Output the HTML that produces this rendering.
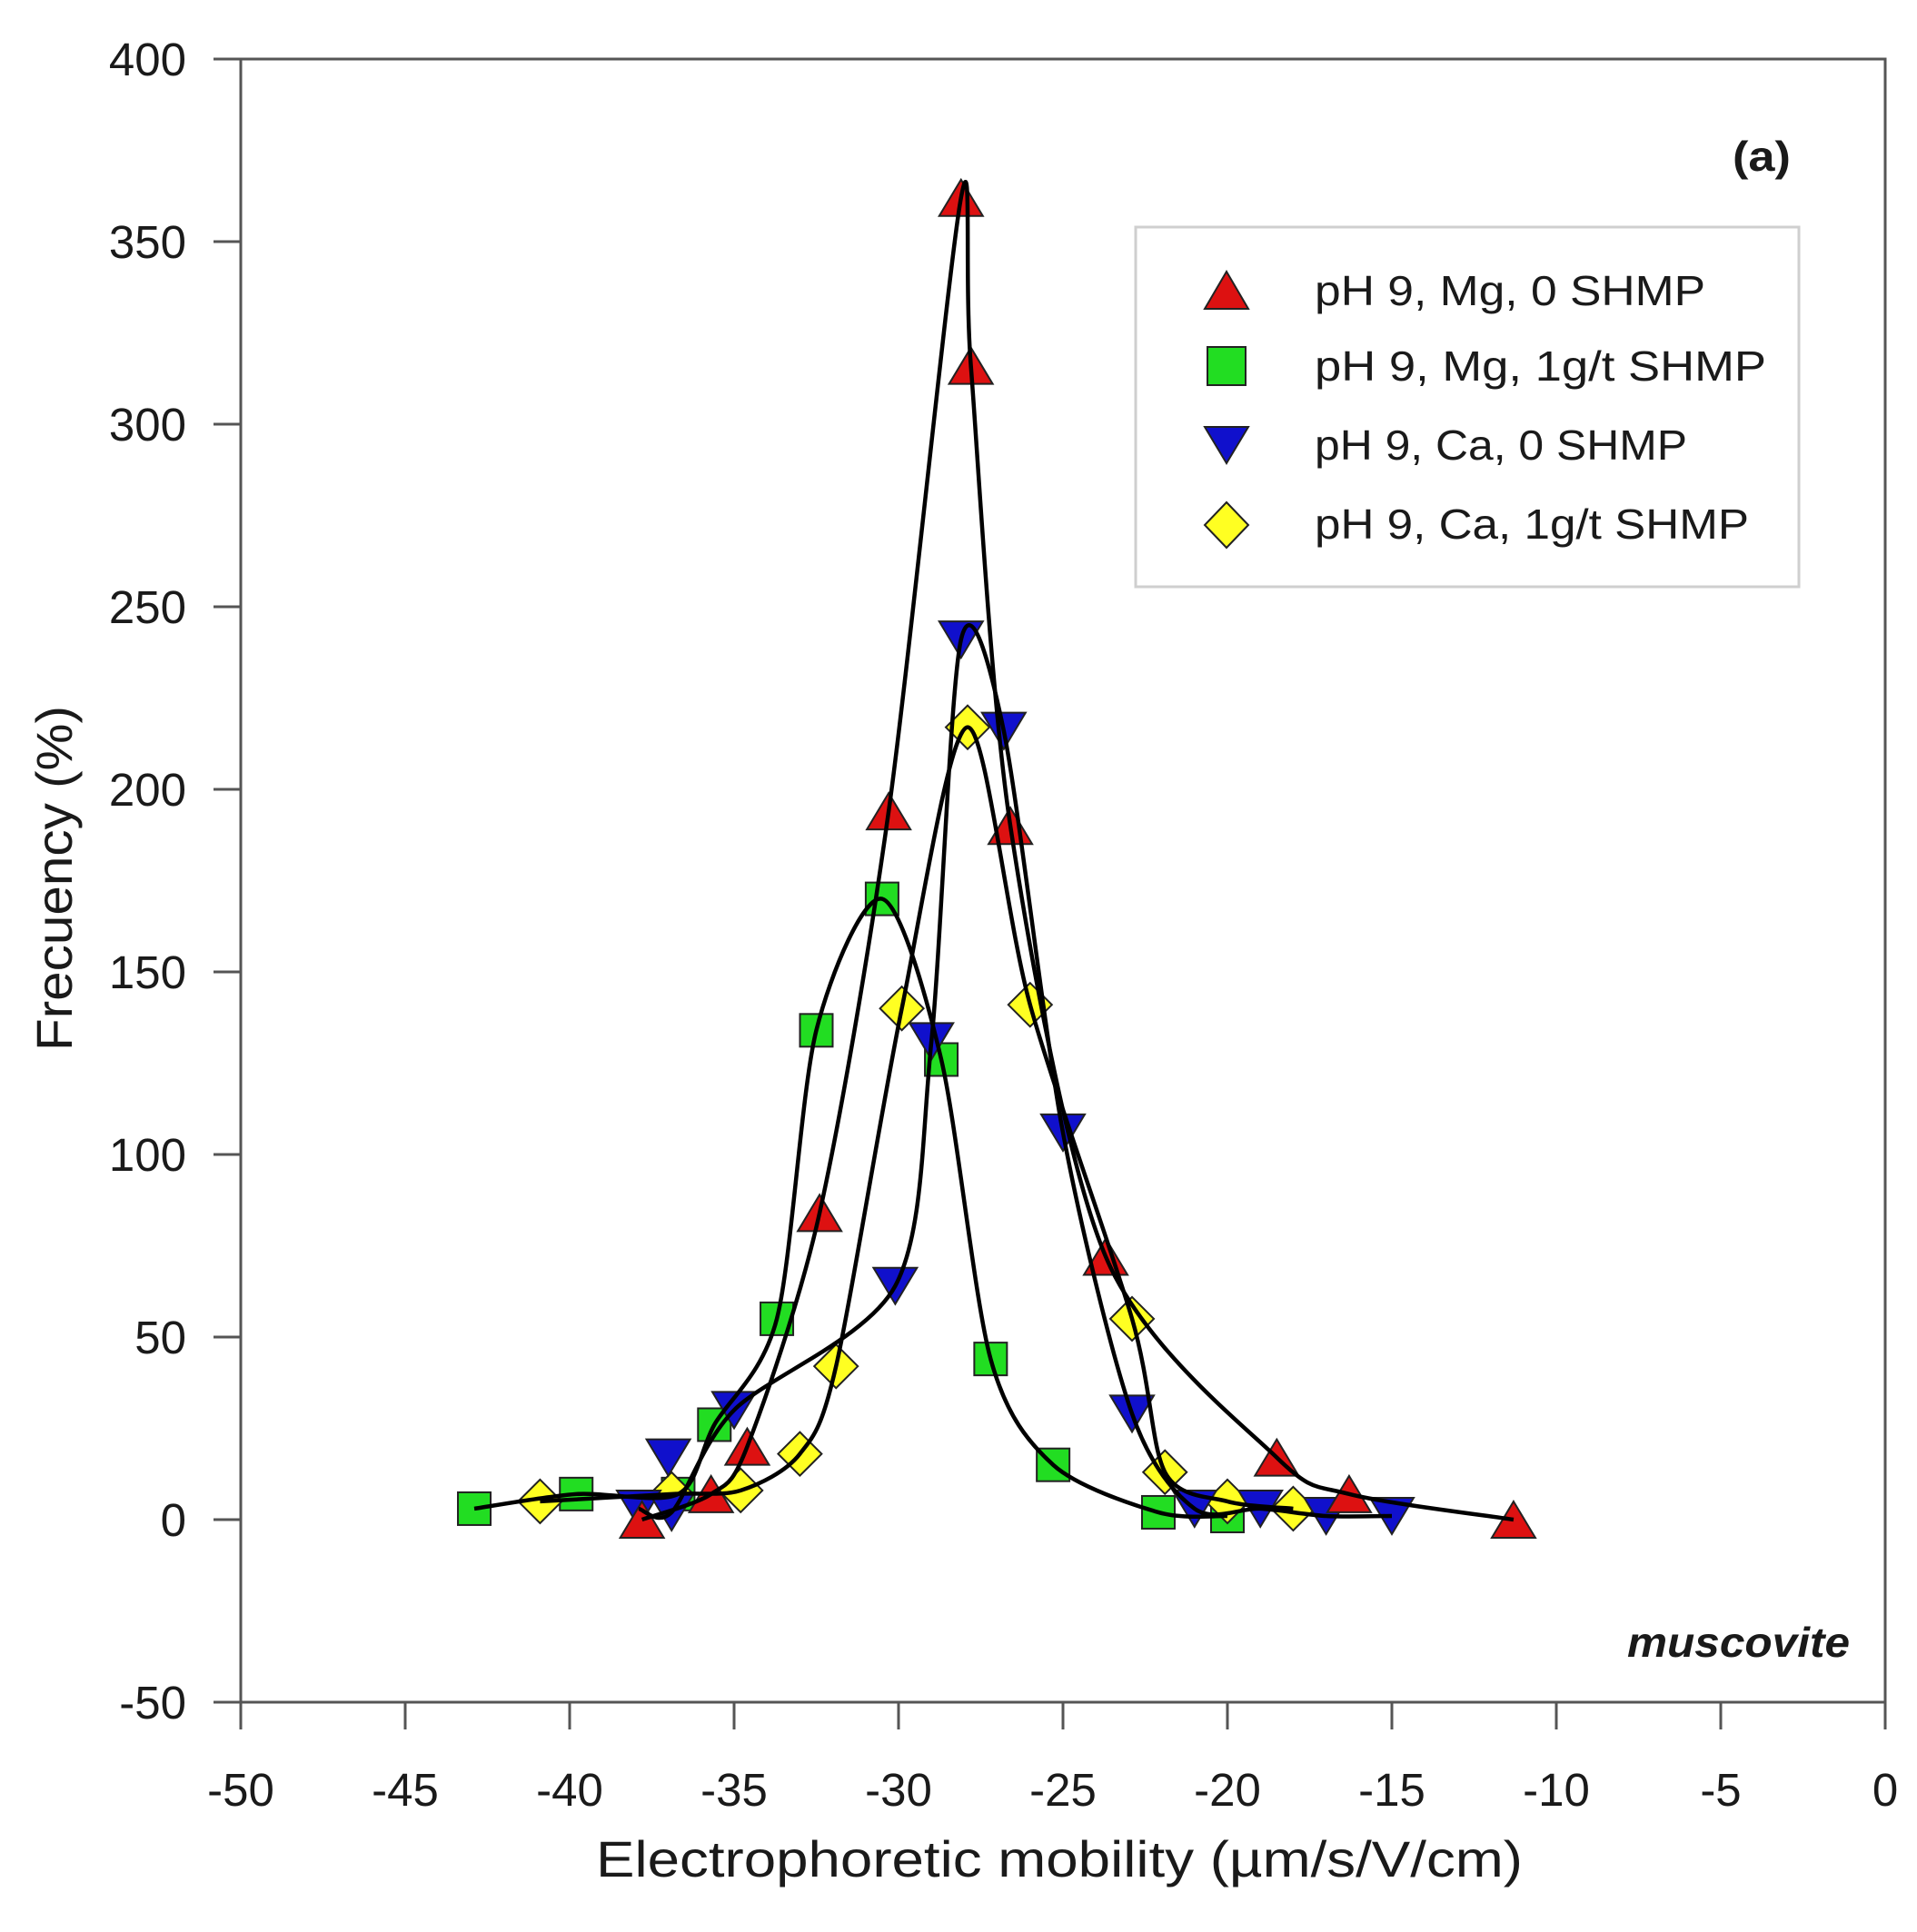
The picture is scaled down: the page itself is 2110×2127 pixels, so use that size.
<!DOCTYPE html>
<html><head><meta charset="utf-8"><style>
html,body{margin:0;padding:0;background:#fff;}
svg{display:block;}
text{font-family:"Liberation Sans",sans-serif;fill:#1a1a1a;}
</style></head><body>
<svg id="s" width="2110" height="2127" viewBox="0 0 2110 2127" xmlns="http://www.w3.org/2000/svg">
<rect width="2110" height="2127" fill="#fff"/>
<g id="axes"></g>
<g id="marks" stroke="#222" stroke-width="2"></g>
<g id="curves" fill="none" stroke="#000" stroke-width="4.5"></g>
<rect x="1250" y="250" width="730" height="396" fill="none" stroke="#cfcfcf" stroke-width="3"/>
<g stroke="#222" stroke-width="2">
<polygon points="1350,299 1374,340 1326,340" fill="#dd1111"/>
<rect x="1329" y="382" width="42" height="42" fill="#22dd22"/>
<polygon points="1326,470 1374,470 1350,510" fill="#1010cc"/>
<polygon points="1350,553 1374,578 1350,603 1326,578" fill="#ffff22"/>
</g>
<g font-size="46">
<text x="1447" y="336" textLength="430" lengthAdjust="spacingAndGlyphs">pH 9, Mg, 0 SHMP</text>
<text x="1447" y="419" textLength="497" lengthAdjust="spacingAndGlyphs">pH 9, Mg, 1g/t SHMP</text>
<text x="1447" y="506" textLength="410" lengthAdjust="spacingAndGlyphs">pH 9, Ca, 0 SHMP</text>
<text x="1447" y="593" textLength="478" lengthAdjust="spacingAndGlyphs">pH 9, Ca, 1g/t SHMP</text>
</g>
<text x="1907" y="188" font-size="46" font-weight="bold" textLength="64" lengthAdjust="spacingAndGlyphs">(a)</text>
<text x="2036" y="1824" font-size="46" font-weight="bold" font-style="italic" text-anchor="end" textLength="245" lengthAdjust="spacingAndGlyphs">muscovite</text>
<text x="1166" y="2066" font-size="56" text-anchor="middle" textLength="1020" lengthAdjust="spacingAndGlyphs">Electrophoretic mobility (µm/s/V/cm)</text>
<text transform="translate(79,967) rotate(-90)" font-size="56" text-anchor="middle" textLength="380" lengthAdjust="spacingAndGlyphs">Frecuency (%)</text>
</svg>
<script>
const NS="http://www.w3.org/2000/svg";
const L=265,R=2075,T=65,B=1874;
const X=v=>L+(v+50)*(R-L)/50, Y=f=>T+(400-f)*(B-T)/450;
function el(p,n,a,t){const e=document.createElementNS(NS,n);for(const k in a)e.setAttribute(k,a[k]);if(t!==undefined)e.textContent=t;p.appendChild(e);return e;}
const ax=document.getElementById('axes');
el(ax,'rect',{x:L,y:T,width:R-L,height:B-T,fill:'none',stroke:'#555','stroke-width':3});
for(let v=-50;v<=0;v+=5){el(ax,'line',{x1:X(v),y1:B,x2:X(v),y2:B+30,stroke:'#555','stroke-width':3});
el(ax,'text',{x:X(v),y:1988,'font-size':51,'text-anchor':'middle'},String(v));}
for(let f=-50;f<=400;f+=50){el(ax,'line',{x1:L-30,y1:Y(f),x2:L,y2:Y(f),stroke:'#555','stroke-width':3});
el(ax,'text',{x:205,y:Y(f)+18,'font-size':51,'text-anchor':'end'},String(f));}
const red=[[-37.8,0],[-35.7,7],[-34.6,20],[-32.4,84],[-30.3,194],[-28.1,362],[-27.8,316],[-26.6,190],[-23.7,72],[-18.5,17],[-16.3,7],[-11.3,0]];
const green=[[-42.9,3],[-39.8,7],[-36.7,7],[-35.6,26],[-33.7,55],[-32.5,134],[-30.5,170],[-28.7,126],[-27.2,44],[-25.3,15],[-22.1,2],[-20,1]];
const blue=[[-37.9,3],[-37,17],[-36.9,2],[-35,30],[-30.1,64],[-29,131],[-28.1,241],[-26.8,216],[-25,106],[-22.9,29],[-21,3],[-19,3],[-17,1],[-15,1]];
const yel=[[-40.9,5],[-36.9,7],[-34.8,8],[-33,18],[-31.9,42],[-29.9,140],[-27.9,217],[-26,141],[-22.9,55],[-21.9,13],[-20,5],[-18,3]];
function curve(pts){const p=pts.map(a=>[X(a[0]),Y(a[1])]);let d=`M${p[0][0]},${p[0][1]}`;
for(let i=0;i<p.length-1;i++){const p0=p[Math.max(0,i-1)],p1=p[i],p2=p[i+1],p3=p[Math.min(p.length-1,i+2)];
const k=1/7;d+=` C${p1[0]+(p2[0]-p0[0])*k},${p1[1]+(p2[1]-p0[1])*k} ${p2[0]-(p3[0]-p1[0])*k},${p2[1]-(p3[1]-p1[1])*k} ${p2[0]},${p2[1]}`;}
return d;}
const mk=document.getElementById('marks'),cv=document.getElementById('curves');
function tri(x,y,up,c){const h=20,w=24;el(mk,'polygon',{points:up?`${x},${y-h} ${x+w},${y+h} ${x-w},${y+h}`:`${x-w},${y-h} ${x+w},${y-h} ${x},${y+h}`,fill:c});}
green.forEach(a=>el(mk,'rect',{x:X(a[0])-18,y:Y(a[1])-18,width:36,height:36,fill:'#22dd22'}));
yel.forEach(a=>{const x=X(a[0]),y=Y(a[1]);el(mk,'polygon',{points:`${x},${y-24} ${x+24},${y} ${x},${y+24} ${x-24},${y}`,fill:'#ffff22'});});
blue.forEach(a=>tri(X(a[0]),Y(a[1]),false,'#1010cc'));
red.forEach(a=>tri(X(a[0]),Y(a[1]),true,'#dd1111'));
[red,green,blue.filter((a,i)=>i!==1),yel].forEach(s=>el(cv,'path',{d:curve(s)}));
</script>
</body></html>
